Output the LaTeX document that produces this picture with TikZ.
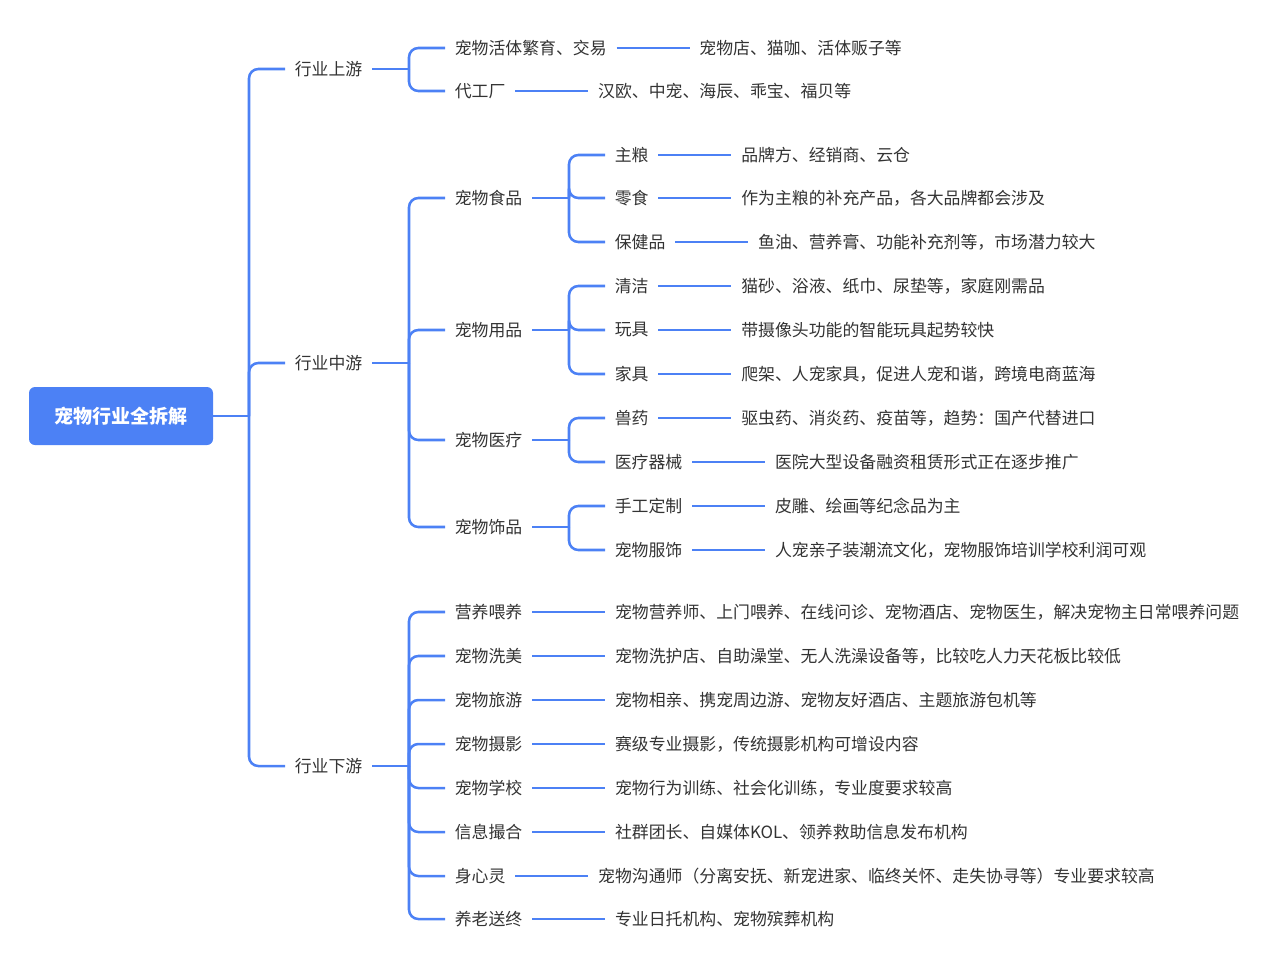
\documentclass[tikz,border=0pt]{standalone}
\usepackage{fontspec}
\setmainfont{Noto Sans CJK SC}
\usetikzlibrary{positioning}
\definecolor{mapblue}{RGB}{76,129,245}
\definecolor{maptext}{RGB}{51,51,51}

\begin{document}
\begin{tikzpicture}[
    x=0.75pt, y=-0.75pt,
    node distance=54.75pt,
    topic/.style={
        anchor=west,
        inner xsep=7.2pt,
        inner ysep=3pt,
        text=maptext,
        font=\fontsize{12.65pt}{15pt}\selectfont
    },
    root/.style={
        rectangle,
        rounded corners=4.5pt,
        fill=mapblue,
        text=white,
        minimum width=138pt,
        minimum height=43.5pt,
        font=\fontsize{14.25pt}{16pt}\selectfont\bfseries
    },
    link/.style={draw=mapblue, line width=1.9pt, rounded corners=7pt}
]
\useasboundingbox (0,0) rectangle (1280,965);

% Root and the three stages
\node[root] (root) at (121,416) {宠物行业全拆解};
\node[topic] (up) at (285,69) {行业上游};
\node[topic] (mid) at (285,363) {行业中游};
\node[topic] (down) at (285,766) {行业下游};

% Upstream
\node[topic] (breed) at (445,48) {宠物活体繁育、交易};
\node[topic, right=of breed] (breedx) {宠物店、猫咖、活体贩子等};
\node[topic] (oem) at (445,91) {代工厂};
\node[topic, right=of oem] (oemx) {汉欧、中宠、海辰、乖宝、福贝等};

% Midstream
\node[topic] (food) at (445,198) {宠物食品};
\node[topic] (goods) at (445,330) {宠物用品};
\node[topic] (med) at (445,440) {宠物医疗};
\node[topic] (deco) at (445,527) {宠物饰品};

\node[topic] (staple) at (605,155) {主粮};
\node[topic, right=of staple] (staplex) {品牌方、经销商、云仓};
\node[topic] (snack) at (605,198) {零食};
\node[topic, right=of snack] (snackx) {作为主粮的补充产品，各大品牌都会涉及};
\node[topic] (health) at (605,242) {保健品};
\node[topic, right=of health] (healthx) {鱼油、营养膏、功能补充剂等，市场潜力较大};

\node[topic] (clean) at (605,286) {清洁};
\node[topic, right=of clean] (cleanx) {猫砂、浴液、纸巾、尿垫等，家庭刚需品};
\node[topic] (toy) at (605,330) {玩具};
\node[topic, right=of toy] (toyx) {带摄像头功能的智能玩具起势较快};
\node[topic] (furn) at (605,374) {家具};
\node[topic, right=of furn] (furnx) {爬架、人宠家具，促进人宠和谐，跨境电商蓝海};

\node[topic] (drug) at (605,418) {兽药};
\node[topic, right=of drug] (drugx) {驱虫药、消炎药、疫苗等，趋势：国产代替进口};
\node[topic] (equip) at (605,462) {医疗器械};
\node[topic, right=of equip] (equipx) {医院大型设备融资租赁形式正在逐步推广};

\node[topic] (craft) at (605,506) {手工定制};
\node[topic, right=of craft] (craftx) {皮雕、绘画等纪念品为主};
\node[topic] (wear) at (605,550) {宠物服饰};
\node[topic, right=of wear] (wearx) {人宠亲子装潮流文化，宠物服饰培训学校利润可观};

% Downstream
\node[topic] (feed) at (445,612) {营养喂养};
\node[topic, right=of feed] (feedx) {宠物营养师、上门喂养、在线问诊、宠物酒店、宠物医生，解决宠物主日常喂养问题};
\node[topic] (groom) at (445,656) {宠物洗美};
\node[topic, right=of groom] (groomx) {宠物洗护店、自助澡堂、无人洗澡设备等，比较吃人力天花板比较低};
\node[topic] (travel) at (445,700) {宠物旅游};
\node[topic, right=of travel] (travelx) {宠物相亲、携宠周边游、宠物友好酒店、主题旅游包机等};
\node[topic] (photo) at (445,744) {宠物摄影};
\node[topic, right=of photo] (photox) {赛级专业摄影，传统摄影机构可增设内容};
\node[topic] (school) at (445,788) {宠物学校};
\node[topic, right=of school] (schoolx) {宠物行为训练、社会化训练，专业度要求较高};
\node[topic] (match) at (445,832) {信息撮合};
\node[topic, right=of match] (matchx) {社群团长、自媒体KOL、领养救助信息发布机构};
\node[topic] (mind) at (445,876) {身心灵};
\node[topic, right=of mind] (mindx) {宠物沟通师（分离安抚、新宠进家、临终关怀、走失协寻等）专业要求较高};
\node[topic] (elder) at (445,919) {养老送终};
\node[topic, right=of elder] (elderx) {专业日托机构、宠物殡葬机构};

% Junctions of the brackets
\coordinate (rootj) at (249,416);
\coordinate (upj) at (409,69);
\coordinate (midj) at (409,363);
\coordinate (downj) at (409,766);
\coordinate (foodj) at (569,198);
\coordinate (goodsj) at (569,330);
\coordinate (medj) at (569,440);
\coordinate (decoj) at (569,527);

% Brackets
\draw[link] (root.east) -- (rootj);
\foreach \c in {up,mid,down} \draw[link] (rootj) |- (\c.west);
\draw[link] (up.east) -- (upj);
\foreach \c in {breed,oem} \draw[link] (upj) |- (\c.west);
\draw[link] (mid.east) -- (midj);
\foreach \c in {food,goods,med,deco} \draw[link] (midj) |- (\c.west);
\draw[link] (down.east) -- (downj);
\foreach \c in {feed,groom,travel,photo,school,match,mind,elder} \draw[link] (downj) |- (\c.west);
\draw[link] (food.east) -- (foodj);
\foreach \c in {staple,snack,health} \draw[link] (foodj) |- (\c.west);
\draw[link] (goods.east) -- (goodsj);
\foreach \c in {clean,toy,furn} \draw[link] (goodsj) |- (\c.west);
\draw[link] (med.east) -- (medj);
\foreach \c in {drug,equip} \draw[link] (medj) |- (\c.west);
\draw[link] (deco.east) -- (decoj);
\foreach \c in {craft,wear} \draw[link] (decoj) |- (\c.west);

% Leaf links
\foreach \a/\b in {breed/breedx, oem/oemx, staple/staplex, snack/snackx, health/healthx,
    clean/cleanx, toy/toyx, furn/furnx, drug/drugx, equip/equipx, craft/craftx, wear/wearx,
    feed/feedx, groom/groomx, travel/travelx, photo/photox, school/schoolx, match/matchx,
    mind/mindx, elder/elderx}
    \draw[link] (\a.east) -- (\b.west);

\end{tikzpicture}
\end{document}
